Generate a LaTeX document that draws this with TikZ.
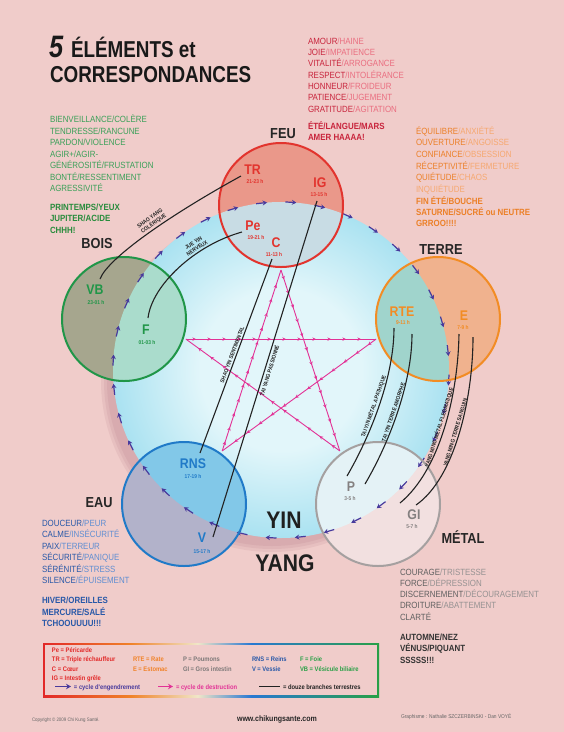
\documentclass[tikz,border=0pt]{standalone}
\usepackage{fontspec}
\setmainfont{Liberation Sans}
\newfontfamily\cn[FakeStretch=0.88]{Liberation Sans}
\newfontfamily\cnt[FakeStretch=0.82]{Liberation Sans}
\usetikzlibrary{decorations.markings,arrows.meta,calc}
\definecolor{bg}{RGB}{240,204,202}
\definecolor{shadowC}{RGB}{150,80,95}
\definecolor{feuC}{RGB}{226,52,46}
\definecolor{boisC}{RGB}{32,150,72}
\definecolor{terreC}{RGB}{242,140,36}
\definecolor{eauC}{RGB}{32,122,200}
\definecolor{metalC}{RGB}{165,160,160}
\definecolor{feuO}{RGB}{234,152,138}
\definecolor{feuI}{RGB}{200,220,228}
\definecolor{boisO}{RGB}{166,166,142}
\definecolor{boisI}{RGB}{170,220,204}
\definecolor{terreO}{RGB}{240,178,142}
\definecolor{terreI}{RGB}{160,212,204}
\definecolor{eauO}{RGB}{178,178,202}
\definecolor{eauI}{RGB}{130,200,232}
\definecolor{metalO}{RGB}{242,224,224}
\definecolor{metalI}{RGB}{228,242,246}
\definecolor{bla}{RGB}{226,246,250}
\definecolor{blb}{RGB}{170,226,241}
\definecolor{engC}{RGB}{72,58,156}
\definecolor{desC}{RGB}{226,50,150}
\definecolor{brC}{RGB}{34,34,34}
\definecolor{feuP}{RGB}{200,36,60}
\definecolor{feuN}{RGB}{234,110,128}
\definecolor{terreP}{RGB}{236,128,40}
\definecolor{terreN}{RGB}{246,168,112}
\definecolor{boisP}{RGB}{58,160,88}
\definecolor{boisB}{RGB}{40,140,60}
\definecolor{eauP}{RGB}{40,88,168}
\definecolor{eauN}{RGB}{96,142,210}
\definecolor{metP}{RGB}{96,96,96}
\definecolor{metN}{RGB}{150,146,146}
\definecolor{legR}{RGB}{226,40,40}
\definecolor{legO}{RGB}{240,130,40}
\definecolor{legY}{RGB}{240,230,200}
\definecolor{legB}{RGB}{40,120,210}
\definecolor{legG}{RGB}{40,160,70}
\pgfdeclareradialshading{bluedisc}{\pgfpoint{0bp}{0bp}}{color(0bp)=(bla); color(12bp)=(bla); color(25bp)=(blb); color(50bp)=(blb)}
\pgfdeclarehorizontalshading{rainbowb}{50bp}{color(0bp)=(legR); color(25bp)=(legR); color(38bp)=(legO); color(48bp)=(legY); color(56bp)=(legB); color(75bp)=(legG); color(100bp)=(legG)}
\begin{document}
\begin{tikzpicture}[x=1pt,y=-1pt,
  every node/.style={inner sep=0pt, outer sep=0pt},
  emo/.style={anchor=base west, font=\cn\fontsize{9}{11}\selectfont},
  emob/.style={anchor=base west, font=\cn\bfseries\fontsize{9}{11}\selectfont},
  elname/.style={font=\cn\bfseries\fontsize{14.5}{16}\selectfont, text=black!85},
  organ/.style={font=\cn\bfseries\fontsize{14}{15}\selectfont},
  hrs/.style={font=\cn\bfseries\fontsize{5.5}{6}\selectfont},
  branch/.style={draw=brC, line width=1.1pt},
  brtext/.style={font=\cn\bfseries\fontsize{5.6}{6.4}\selectfont, text=brC, align=center},
  elcircle/.style={line width=2pt},
  legtext/.style={anchor=base west, font=\cn\bfseries\fontsize{6.6}{7.5}\selectfont},
  engarrows/.style={decorate, decoration={markings, mark=between positions 0.01 and 1 step 0.027777 with {\draw[engC, line width=1.2pt, -{Stealth[length=4.5pt,width=5pt,inset=1.5pt]}] (-6pt,0pt) -- (5pt,0pt);}}},
  desline/.style={draw=desC, line width=0.9pt, postaction={decorate}, decoration={markings, mark=between positions 10pt and 185pt step 15pt with {\arrow{Stealth[length=3.5pt,width=3.5pt]}}}}
]
\useasboundingbox (0,0) rectangle (564,732);
\fill[bg] (0,0) rectangle (564,732);

% ---------- geometry
\coordinate (O) at (281,370);
\coordinate (cFeu) at (281,205);
\coordinate (cBois) at (124,319);
\coordinate (cTerre) at (438,319);
\coordinate (cEau) at (184,504);
\coordinate (cMetal) at (378,504);

% shadow + blue disc
\foreach \r in {171,168,165}
  \fill[shadowC, opacity=0.09] ($(O)+(-9,11)$) circle[radius=\r];
\shade[shading=bluedisc] (O) circle[radius=168];

% element fills
\fill[feuO] (cFeu) circle[radius=62];
\fill[boisO] (cBois) circle[radius=62];
\fill[terreO] (cTerre) circle[radius=62];
\fill[eauO] (cEau) circle[radius=62];
\fill[metalO] (cMetal) circle[radius=62];
\begin{scope}
  \clip (O) circle[radius=168];
  \fill[feuI] (cFeu) circle[radius=62];
  \fill[boisI] (cBois) circle[radius=62];
  \fill[terreI] (cTerre) circle[radius=62];
  \fill[eauI] (cEau) circle[radius=62];
  \fill[metalI] (cMetal) circle[radius=62];
\end{scope}

% pentagram (destruction cycle)
\coordinate (s0) at (281,270);
\coordinate (s1) at (376.1,339.1);
\coordinate (s2) at (339.8,450.9);
\coordinate (s3) at (222.2,450.9);
\coordinate (s4) at (185.9,339.1);
\draw[desline] (s0) -- (s2);
\draw[desline] (s2) -- (s4);
\draw[desline] (s4) -- (s1);
\draw[desline] (s1) -- (s3);
\draw[desline] (s3) -- (s0);

% engendering arrows
\path[engarrows] (O) circle[radius=168];

% element strokes
\draw[elcircle, feuC] (cFeu) circle[radius=62];
\draw[elcircle, boisC] (cBois) circle[radius=62];
\draw[elcircle, terreC] (cTerre) circle[radius=62];
\draw[elcircle, eauC] (cEau) circle[radius=62];
\draw[elcircle, metalC] (cMetal) circle[radius=62];

% ---------- organ labels
\node[organ, text=feuC] (TR) at (252.5,170) {TR};
\node[hrs, text=feuC] (TRh) at (255,181.5) {21-23 h};
\node[organ, text=feuC] (IG) at (320,183) {IG};
\node[hrs, text=feuC] (IGh) at (319,194.5) {13-15 h};
\node[organ, text=feuC] (Pe) at (253,226) {Pe};
\node[hrs, text=feuC] (Peh) at (256,238) {19-21 h};
\node[organ, text=feuC] (C) at (276,243) {C};
\node[hrs, text=feuC] (Ch) at (274,254.5) {11-13 h};
\node[organ, text=boisC] (VB) at (95,290) {VB};
\node[hrs, text=boisC] (VBh) at (96,302.5) {23-01 h};
\node[organ, text=boisC] (F) at (146,330) {F};
\node[hrs, text=boisC] (Fh) at (147,342.5) {01-03 h};
\node[organ, text=terreC] (RTE) at (402,312) {RTE};
\node[hrs, text=terreC] (RTEh) at (403,323) {9-11 h};
\node[organ, text=terreC] (E) at (464,316) {E};
\node[hrs, text=terreC] (Eh) at (463,327.5) {7-9 h};
\node[organ, text=eauC] (RNS) at (193,464) {RNS};
\node[hrs, text=eauC] (RNSh) at (193,477) {17-19 h};
\node[organ, text=eauC] (V) at (202,538) {V};
\node[hrs, text=eauC] (Vh) at (202,552) {15-17 h};
\node[organ, text=metalC!80!black] (P) at (351,487) {P};
\node[hrs, text=metalC!80!black] (Ph) at (350,498.5) {3-5 h};
\node[organ, text=metalC!80!black] (GI) at (414,515) {GI};
\node[hrs, text=metalC!80!black] (GIh) at (412,526.5) {5-7 h};

% ---------- twelve branches
\coordinate (VBa) at (100,279);
\coordinate (TRa) at (241,176);
\coordinate (Fa) at (148,318);
\coordinate (Pea) at (242,232);
\coordinate (Ca) at (272,259);
\coordinate (RNSa) at (200,453);
\coordinate (IGa) at (317,201);
\coordinate (Va) at (213,537);
\coordinate (RTEa1) at (394,328);
\coordinate (Pa1) at (347,476);
\coordinate (RTEa2) at (412,334);
\coordinate (Pa2) at (365,484);
\coordinate (Ea1) at (459,334);
\coordinate (GIa1) at (400,503);
\coordinate (Ea2) at (473,337);
\coordinate (GIa2) at (416,505);

\draw[branch] (VBa) .. controls (108,258) and (170,215) .. (TRa)
  node[pos=0.56, sloped, above=2pt, brtext] (lSY) {SHAO YANG\\COLÉRIQUE};
\draw[branch] (Fa) .. controls (152,285) and (195,245) .. (Pea)
  node[pos=0.68, sloped, above=2pt, brtext] (lJY) {JUE YIN\\NERVEUX};
\draw[branch] (RNSa) -- (Ca)
  node[pos=0.5, sloped, above=2pt, brtext] (lSYi) {SHAO YIN SENTIMENTAL};
\draw[branch] (Va) -- (IGa)
  node[pos=0.5, sloped, below=2pt, brtext] (lTY) {TAI YANG PASSIONNÉ};
\draw[branch] (Pa1) .. controls (368,440) and (394,380) .. (RTEa1)
  node[pos=0.5, sloped, above=2pt, brtext] (lTY1) {TAI YIN MÉTAL APATHIQUE};
\draw[branch] (Pa2) .. controls (388,445) and (412,385) .. (RTEa2)
  node[pos=0.5, sloped, above=2pt, brtext] (lTY2) {TAI YIN TERRE AMORPHE};
\draw[branch] (GIa1) .. controls (440,470) and (458,395) .. (Ea1)
  node[pos=0.5, sloped, above=2pt, brtext] (lYM1) {YANG MING MÉTAL FLEGMATIQUE};
\draw[branch] (GIa2) .. controls (455,478) and (473,398) .. (Ea2)
  node[pos=0.5, sloped, above=2pt, brtext] (lYM2) {YANG MING TERRE SANGUIN};

% ---------- element names
\node[elname] (nFEU) at (283,134) {FEU};
\node[elname] (nBOIS) at (97,244) {BOIS};
\node[elname] (nTERRE) at (441,250) {TERRE};
\node[elname] (nEAU) at (99,503) {EAU};
\node[elname] (nMETAL) at (463,537) {MÉTAL};
\node[font=\cn\bfseries\fontsize{24}{24}\selectfont, text=black!88] (nYIN) at (284,520) {YIN};
\node[font=\cn\bfseries\fontsize{24}{24}\selectfont, text=black!88] (nYANG) at (285,563) {YANG};

% ---------- title
\node[anchor=base west, font=\cnt\bfseries\itshape\fontsize{31}{31}\selectfont, text=black!90] (t5) at (49,57) {5};
\node[anchor=base west, font=\cnt\bfseries\fontsize{23}{23}\selectfont, text=black!90] (t1) at (71,57) {ÉLÉMENTS et};
\node[anchor=base west, font=\cnt\bfseries\fontsize{23}{23}\selectfont, text=black!90] (t2) at (50,82.5) {CORRESPONDANCES};

% ---------- BOIS text
\foreach \t [count=\i from 0] in {BIENVEILLANCE/COLÈRE,TENDRESSE/RANCUNE,PARDON/VIOLENCE,AGIR+/AGIR-,GÉNÉROSITÉ/FRUSTATION,BONTÉ/RESSENTIMENT,AGRESSIVITÉ}
  \node[emo, text=boisP] (bois\i) at (50,{122.5+11.5*\i}) {\t};
\foreach \t [count=\i from 0] in {PRINTEMPS/YEUX,JUPITER/ACIDE,CHHH!}
  \node[emob, text=boisB] (boisb\i) at (50,{210+11.6*\i}) {\t};

% ---------- FEU text
\foreach \p/\q [count=\i from 0] in {AMOUR/HAINE,JOIE/IMPATIENCE,VITALITÉ/ARROGANCE,RESPECT/INTOLÉRANCE,HONNEUR/FROIDEUR,PATIENCE/JUGEMENT,GRATITUDE/AGITATION}
  \node[emo] (feu\i) at (308,{44+11.35*\i}) {\textcolor{feuP}{\p}\textcolor{feuN}{/\q}};
\node[emob, text=feuP] (feub0) at (308,129.5) {ÉTÉ/LANGUE/MARS};
\node[emob, text=feuP] (feub1) at (308,140.8) {AMER HAAAA!};

% ---------- TERRE text
\foreach \p/\q [count=\i from 0] in {ÉQUILIBRE/ANXIÉTÉ,OUVERTURE/ANGOISSE,CONFIANCE/OBSESSION,RÉCEPTIVITÉ/FERMETURE,QUIÉTUDE/CHAOS}
  \node[emo] (ter\i) at (416,{134+11.7*\i}) {\textcolor{terreP}{\p}\textcolor{terreN}{/\q}};
\node[emo, text=terreN] (ter5) at (416,192.5) {INQUIÉTUDE};
\node[emob, text=terreP] (terb0) at (416,204) {FIN ÉTÉ/BOUCHE};
\node[emob, text=terreP] (terb1) at (416,215) {SATURNE/SUCRÉ ou NEUTRE};
\node[emob, text=terreP] (terb2) at (416,226) {GRROO!!!!};

% ---------- EAU text
\foreach \p/\q [count=\i from 0] in {DOUCEUR/PEUR,CALME/INSÉCURITÉ,PAIX/TERREUR,SÉCURITÉ/PANIQUE,SÉRÉNITÉ/STRESS,SILENCE/ÉPUISEMENT}
  \node[emo] (eau\i) at (42,{526.6+11.35*\i}) {\textcolor{eauP}{\p}\textcolor{eauN}{/\q}};
\node[emob, text=eauP] (eaub0) at (42,603.3) {HIVER/OREILLES};
\node[emob, text=eauP] (eaub1) at (42,615) {MERCURE/SALÉ};
\node[emob, text=eauP] (eaub2) at (42,626.5) {TCHOOUUUU!!!};

% ---------- METAL text
\foreach \p/\q [count=\i from 0] in {COURAGE/TRISTESSE,FORCE/DÉPRESSION,DISCERNEMENT/DÉCOURAGEMENT,DROITURE/ABATTEMENT}
  \node[emo] (met\i) at (400,{575.6+11*\i}) {\textcolor{metP}{\p}\textcolor{metN}{/\q}};
\node[emo, text=metP] (met4) at (400,620) {CLARTÉ};
\node[emob, text=black!80] (metb0) at (400,640) {AUTOMNE/NEZ};
\node[emob, text=black!80] (metb1) at (400,651.5) {VÉNUS/PIQUANT};
\node[emob, text=black!80] (metb2) at (400,663) {SSSSS!!!};

% ---------- legend
\shade[shading=rainbowb] (43,643) rectangle (379,697);
\fill[bg] (45,645) rectangle (377,695);
\node[legtext, text=legR] (lg1) at (52,652) {Pe = Péricarde};
\node[legtext, text=legR] (lg2) at (52,661.5) {TR = Triple réchauffeur};
\node[legtext, text=legR] (lg3) at (52,671) {C = Cœur};
\node[legtext, text=legR] (lg4) at (52,680.3) {IG = Intestin grêle};
\node[legtext, text=legO] (lg5) at (133,661.5) {RTE = Rate};
\node[legtext, text=legO] (lg6) at (133,671) {E = Estomac};
\node[legtext, text=metalC!75!black] (lg7) at (183,661.5) {P = Poumons};
\node[legtext, text=metalC!75!black] (lg8) at (183,671) {GI = Gros intestin};
\node[legtext, text=eauP] (lg9) at (252,661.5) {RNS = Reins};
\node[legtext, text=eauP] (lg10) at (252,671) {V = Vessie};
\node[legtext, text=legG] (lg11) at (300,661.5) {F = Foie};
\node[legtext, text=legG] (lg12) at (300,671) {VB = Vésicule biliaire};
\coordinate (la1) at (55,686.5);
\coordinate (la2) at (71,686.5);
\draw[engC, line width=1.5pt, -{Stealth[length=5pt,width=5.5pt]}] (la1) -- (la2);
\node[legtext, text=engC] (lg13) at (74,689) {= cycle d'engendrement};
\coordinate (lb1) at (158,686.5);
\coordinate (lb2) at (173,686.5);
\draw[desC, line width=1.5pt, -{Stealth[length=5pt,width=5.5pt]}] (lb1) -- (lb2);
\node[legtext, text=desC] (lg14) at (176,689) {= cycle de destruction};
\coordinate (lc1) at (259,686.5);
\coordinate (lc2) at (280,686.5);
\draw[brC, line width=1.3pt] (lc1) -- (lc2);
\node[legtext, text=brC] (lg15) at (283,689) {= douze branches terrestres};

% ---------- footer
\node[anchor=base west, font=\cn\fontsize{5}{6}\selectfont, text=black!60] (copy) at (32,721) {Copyright © 2009 Chi Kung Santé.};
\node[anchor=base, font=\cn\bfseries\fontsize{8}{9}\selectfont, text=black!85] (web) at (277,721.5) {www.chikungsante.com};
\node[anchor=base west, font=\cn\fontsize{5.5}{6}\selectfont, text=black!60] (graph) at (401,718.5) {Graphisme : Nathalie SZCZERBINSKI - Dan VOYÉ};
\end{tikzpicture}
\end{document}
